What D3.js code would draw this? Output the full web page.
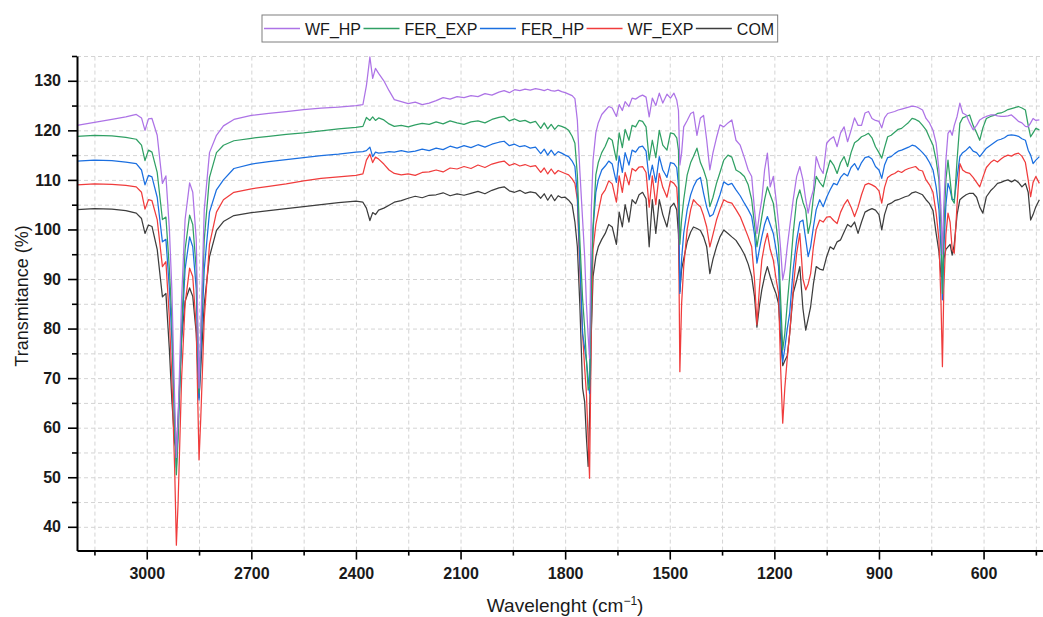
<!DOCTYPE html>
<html>
<head>
<meta charset="utf-8">
<script src="https://cdn.jsdelivr.net/npm/d3@7"></script>
<style>
  body { margin: 0; background: #fff; }
  svg { display: block; font-family: "Liberation Sans", Arial, sans-serif; }
  .axis text { font-family: "Liberation Sans", Arial, sans-serif; font-size: 16px; font-weight: bold; fill: #1a1a1a; }
</style>
</head>
<body>
<svg id="chart" width="1043" height="617"></svg>
<script>
// wavenumber grid (cm-1), shared by all five spectra
const wavenumber = [
  3200, 3150, 3100, 3060, 3030, 3015, 3005, 2995, 2985, 2970,
  2955, 2945, 2935, 2928, 2920, 2915, 2910, 2900, 2890, 2877,
  2868, 2858, 2850, 2845, 2835, 2820, 2800, 2780, 2750, 2700,
  2650, 2600, 2550, 2500, 2450, 2400, 2380, 2370, 2360, 2352,
  2344, 2335, 2320, 2305, 2290, 2270, 2250, 2230, 2210, 2190,
  2170, 2150, 2130, 2110, 2090, 2070, 2050, 2030, 2010, 1990,
  1975, 1960, 1945, 1930, 1915, 1900, 1885, 1870, 1860, 1850,
  1840, 1830, 1820, 1810, 1800, 1790, 1780, 1772, 1765, 1758,
  1750, 1744, 1739, 1734, 1730, 1725, 1720, 1712, 1705, 1695,
  1685, 1675, 1665, 1653, 1645, 1636, 1628, 1617, 1608, 1598,
  1588, 1578, 1568, 1559, 1550, 1540, 1530, 1520, 1508, 1498,
  1488, 1480, 1475, 1471, 1466, 1460, 1450, 1440, 1432, 1422,
  1412, 1403, 1394, 1385, 1376, 1366, 1356, 1345, 1333, 1322,
  1310, 1298, 1286, 1275, 1265, 1257, 1250, 1243, 1236, 1228,
  1220, 1212, 1203, 1195, 1188, 1182, 1176, 1170, 1163, 1156,
  1146, 1136, 1127, 1118, 1110, 1103, 1096, 1088, 1080, 1070,
  1060, 1050, 1040, 1030, 1020, 1010, 1000, 990, 980, 970,
  960, 950, 940, 930, 920, 910, 900, 892, 884, 875,
  865, 855, 845, 835, 825, 815, 805, 795, 785, 775,
  765, 755, 745, 736, 728, 722, 718, 714, 708, 702,
  696, 690, 684, 676, 668, 660, 650, 640, 630, 620,
  611, 602, 592, 580, 570, 560, 550, 540, 530, 520,
  510, 500, 490, 480, 472, 465, 458, 450, 440
];

const wfHp = [
  121.0, 121.6, 122.2, 122.7, 123.2, 122.5, 120.0, 122.3, 122.4, 119.0,
  109.3, 110.8, 100.0, 88.0, 66.0, 54.0, 62.0, 86.0, 102.0, 109.4,
  107.5, 98.0, 68.0, 80.0, 104.0, 115.5, 119.0, 120.9, 122.2, 123.0,
  123.4, 123.8, 124.2, 124.5, 124.7, 125.0, 125.2, 129.0, 134.8, 130.5,
  132.5, 131.5, 130.0, 128.0, 126.2, 125.8, 125.4, 125.7, 125.2, 125.5,
  126.0, 126.6, 126.3, 126.8, 126.6, 127.0, 126.8, 127.4, 127.1, 127.7,
  128.0, 127.6, 128.2, 128.0, 128.3, 128.1, 128.4, 128.2, 128.0, 128.3,
  128.0, 127.9, 128.1, 127.8, 127.6, 127.3, 127.0, 126.4, 122.0, 112.0,
  102.0, 94.5, 85.0, 78.4, 74.0, 104.0, 114.0, 119.5, 121.5, 123.2,
  124.0, 124.8, 124.5, 122.8, 125.2, 124.0, 125.8, 124.8, 126.5, 126.3,
  126.8, 127.1, 126.7, 122.7, 126.5, 125.0, 127.5, 125.5, 127.3, 126.5,
  127.5, 126.1, 124.0, 113.0, 115.4, 120.7, 122.0, 123.4, 123.7, 119.0,
  122.5, 123.0, 118.0, 112.0, 115.5, 118.5, 121.1, 120.7, 121.5, 122.1,
  118.0, 117.0, 114.5, 112.0, 110.7, 104.0, 99.2, 103.0, 106.0, 112.0,
  115.4, 108.6, 110.7, 106.0, 101.2, 96.0, 89.8, 92.0, 96.5, 100.5,
  106.0, 110.7, 112.7, 110.0, 106.0, 103.3, 106.0, 108.0, 114.7, 112.5,
  111.3, 117.4, 118.2, 118.7, 116.7, 119.5, 120.7, 117.7, 120.0, 122.5,
  121.0, 121.0, 123.5, 123.8, 122.4, 122.0, 121.8, 120.5, 122.5, 123.4,
  123.6, 123.8, 124.1, 124.3, 124.5, 124.7, 124.9, 124.8, 124.5, 124.1,
  122.4, 121.5, 120.0, 117.4, 112.0, 104.0, 95.0, 105.0, 114.0, 119.4,
  120.0, 119.0, 121.0, 122.8, 125.5, 123.5, 123.1, 121.5, 120.1, 121.0,
  122.1, 122.5, 122.8, 123.1, 123.1, 122.9, 122.8, 122.8, 122.9, 123.1,
  122.5, 121.8, 121.5, 120.8, 120.7, 121.5, 122.4, 122.0, 122.1
];

const ferExp = [
  118.8, 119.0, 118.9, 118.6, 118.2, 117.0, 113.9, 116.0, 115.6, 111.5,
  102.0, 102.5, 92.0, 82.0, 60.0, 50.5, 58.0, 80.0, 96.0, 102.9,
  101.0, 92.0, 67.0, 78.0, 98.0, 110.5, 115.5, 117.0, 117.9, 118.4,
  118.8, 119.2, 119.5, 119.9, 120.3, 120.6, 120.8, 122.6, 122.0, 122.7,
  122.0, 122.5, 122.1, 121.3, 120.8, 121.0, 120.7, 121.1, 121.4, 121.2,
  121.7, 121.3, 121.9, 121.5, 121.2, 121.7, 121.9, 121.5, 122.2, 122.6,
  122.8, 121.9, 122.3, 121.8, 122.0, 121.5, 121.8, 120.4, 121.5, 120.3,
  121.2, 120.2, 121.0, 120.8, 120.5, 120.0, 118.8, 117.4, 111.0, 98.0,
  86.0, 80.0, 73.6, 67.6, 68.3, 88.0, 100.5, 111.0, 113.5, 115.5,
  116.8, 118.5, 118.0, 114.0, 119.5, 116.5, 120.2, 118.0, 121.0, 120.7,
  122.0, 121.8, 120.7, 114.0, 118.0, 114.5, 120.0, 117.0, 116.0, 119.5,
  119.3, 118.5, 116.0, 97.0, 102.0, 106.0, 111.0, 113.5, 114.7, 116.4,
  113.5, 112.0, 110.0, 104.6, 106.5, 109.3, 111.5, 114.0, 115.0, 114.6,
  112.0, 111.5, 110.7, 109.0, 106.0, 101.0, 96.5, 99.5, 102.6, 106.0,
  108.6, 107.0, 105.3, 101.0, 96.5, 86.0, 75.7, 79.0, 85.0, 90.5,
  99.2, 106.0, 108.0, 105.5, 103.9, 99.2, 101.5, 106.6, 110.7, 109.5,
  108.6, 111.5, 114.0, 113.0, 111.3, 113.5, 114.7, 112.7, 115.5, 117.5,
  118.0, 118.7, 119.0, 119.4, 118.5, 116.7, 115.5, 114.4, 116.5, 118.7,
  119.0, 119.6, 120.2, 120.4, 121.0, 121.6, 122.4, 122.2, 121.8, 121.0,
  120.1, 118.5, 117.0, 114.0, 110.0, 100.0, 87.1, 100.0, 110.0, 114.0,
  110.0, 106.0, 105.3, 114.0, 121.4, 122.5, 122.8, 123.1, 121.0, 119.5,
  118.0, 120.5, 122.4, 122.8, 123.0, 123.4, 123.5, 123.8, 124.2, 124.4,
  124.6, 124.8, 124.5, 124.1, 121.0, 118.7, 119.5, 120.4, 120.1
];

const ferHp = [
  113.8, 114.0, 113.9, 113.6, 113.3, 112.0, 109.0, 110.9, 110.6, 106.5,
  97.5, 98.0, 88.0, 78.0, 62.0, 52.0, 60.0, 78.0, 92.0, 98.5,
  96.5, 88.0, 65.6, 75.0, 92.0, 103.5, 108.0, 110.0, 112.3, 113.2,
  113.7, 114.1, 114.5, 114.9, 115.2, 115.6, 115.7, 115.9, 116.6, 114.7,
  115.6, 115.4, 115.5, 115.7, 115.6, 115.9, 115.6, 115.8, 116.2, 115.9,
  116.4, 116.1, 116.8, 116.4, 116.9, 116.5, 117.1, 116.6, 117.2, 117.6,
  117.8, 116.9, 117.2, 116.7, 116.9, 116.4, 116.6, 115.3, 116.2, 115.0,
  116.0, 115.0, 115.7, 115.4, 115.0, 114.7, 113.8, 112.7, 107.0, 94.0,
  79.0, 76.0, 73.6, 70.0, 66.9, 90.0, 100.0, 107.5, 110.0, 112.0,
  112.8, 113.8, 113.2, 109.5, 114.8, 111.5, 115.5, 113.0, 116.0, 115.6,
  116.6, 116.8, 115.8, 110.0, 113.0, 109.5, 114.7, 112.0, 110.5, 113.5,
  113.3, 112.5, 109.0, 87.1, 94.0, 99.2, 104.0, 107.0, 108.6, 110.0,
  110.5, 107.3, 104.5, 102.6, 103.0, 105.0, 107.0, 109.6, 109.0, 109.3,
  108.0, 106.8, 105.3, 104.0, 102.6, 99.0, 93.2, 96.0, 98.5, 101.0,
  102.6, 101.0, 99.2, 96.0, 92.5, 82.0, 73.3, 76.0, 80.0, 83.1,
  92.0, 97.9, 101.5, 101.9, 98.0, 94.5, 96.5, 100.5, 104.0, 106.0,
  104.6, 106.5, 108.0, 109.3, 109.0, 110.5, 111.3, 110.8, 112.5, 113.3,
  112.0, 113.5, 114.5, 114.7, 114.2, 112.7, 112.0, 110.3, 113.0, 114.5,
  114.7, 115.3, 115.8, 116.0, 116.3, 116.6, 117.0, 116.8, 116.2, 115.5,
  114.7, 113.5, 112.0, 108.6, 104.0, 96.0, 85.8, 96.0, 105.0, 109.3,
  108.0, 106.0, 106.0, 110.5, 114.7, 115.5, 116.0, 116.7, 115.8, 115.5,
  114.7, 115.5, 116.4, 117.0, 117.5, 118.0, 118.2, 118.5, 119.0, 119.1,
  119.0, 118.8, 118.3, 118.0, 116.0, 115.0, 113.3, 114.0, 114.7
];

const wfExp = [
  109.0, 109.2, 109.1, 108.9, 108.6, 107.5, 104.1, 106.0, 105.8, 102.0,
  92.5, 93.5, 82.0, 70.0, 52.0, 36.3, 45.0, 70.0, 85.0, 92.2,
  90.5, 80.0, 53.5, 62.0, 82.0, 97.0, 103.5, 106.0, 107.5, 108.2,
  108.7, 109.2, 109.8, 110.3, 110.6, 110.9, 111.2, 114.0, 115.2, 113.5,
  114.6, 114.2, 113.2, 112.0, 111.3, 111.0, 111.2, 110.9, 111.5, 111.6,
  112.0, 111.6, 112.4, 112.2, 112.7, 112.3, 113.0, 112.5, 113.2, 113.6,
  113.8, 112.9, 113.3, 112.8, 113.1, 112.7, 112.9, 111.5, 112.4, 111.2,
  112.2, 111.2, 111.9, 111.6, 111.3, 111.0, 110.2, 109.3, 106.0, 92.0,
  79.0, 72.0, 66.9, 57.5, 49.8, 80.0, 96.0, 101.0, 103.5, 107.0,
  108.0, 109.8, 109.2, 105.5, 110.8, 107.5, 111.5, 109.0, 112.3, 111.8,
  112.6, 112.7, 111.5, 104.5, 110.8, 105.0, 111.3, 108.5, 106.5, 109.8,
  109.3, 108.5, 103.0, 71.3, 85.0, 92.5, 100.0, 104.0, 106.0, 105.2,
  104.6, 102.8, 100.5, 96.5, 99.0, 101.9, 104.0, 106.0, 105.5, 105.3,
  104.0, 102.6, 100.5, 98.5, 96.5, 90.0, 80.8, 88.0, 93.8, 97.0,
  99.2, 96.0, 93.8, 90.0, 87.1, 72.0, 60.9, 68.0, 74.0, 79.0,
  88.0, 95.2, 99.2, 90.0, 87.8, 89.0, 91.1, 96.5, 100.0, 101.9,
  101.5, 102.5, 102.6, 101.8, 101.2, 103.5, 105.0, 106.0, 104.5, 102.6,
  104.5, 107.0, 109.0, 109.3, 109.0, 108.6, 107.8, 105.3, 108.5, 110.5,
  111.0, 111.3, 111.8, 111.5, 112.0, 112.3, 112.5, 112.7, 112.0, 111.8,
  110.0, 109.0, 107.5, 103.3, 98.0, 85.0, 72.3, 88.0, 99.0, 103.3,
  101.5, 96.0, 95.2, 105.0, 113.3, 112.0, 111.5, 111.3, 110.5, 109.5,
  108.6, 110.5, 112.5, 113.5, 114.0, 113.6, 114.2, 114.7, 115.0, 114.8,
  115.2, 115.4, 114.8, 113.5, 110.0, 106.6, 109.5, 110.7, 109.3
];

const com = [
  104.0, 104.2, 104.1, 103.8, 103.3, 102.2, 99.2, 100.9, 100.6, 96.0,
  86.4, 87.1, 75.7, 65.6, 57.0, 55.5, 62.0, 78.0, 85.5, 88.2,
  86.5, 79.0, 66.0, 72.0, 85.0, 94.5, 99.8, 101.6, 102.8, 103.4,
  103.8, 104.2, 104.6, 105.0, 105.4, 105.7, 105.5, 104.3, 101.8, 103.4,
  103.0, 103.9, 104.3, 104.9, 105.5, 105.8, 106.3, 106.7, 106.4, 106.9,
  107.0, 107.4, 106.8, 107.2, 106.9, 107.3, 107.7, 107.2, 107.9, 108.4,
  108.6, 107.8, 107.5, 107.9, 107.3, 107.6, 107.4, 106.3, 107.2, 105.9,
  107.0, 105.8, 106.8, 106.4, 106.5, 105.9, 105.0, 101.5, 96.5, 85.0,
  68.0, 65.2, 58.0, 52.2, 62.0, 79.0, 90.5, 94.5, 96.5, 98.0,
  99.2, 101.0, 100.5, 97.0, 103.5, 100.5, 105.0, 101.5, 106.0, 105.2,
  107.0, 107.5, 106.2, 96.5, 106.0, 99.2, 106.0, 103.0, 100.5, 104.5,
  105.3, 104.0, 99.0, 87.5, 92.0, 94.0, 97.5, 99.5, 100.5, 100.2,
  99.8, 98.5, 96.5, 91.1, 94.0, 96.5, 98.5, 99.9, 99.2, 98.5,
  97.8, 96.5, 95.0, 93.0, 90.5, 86.5, 80.3, 84.5, 87.8, 90.5,
  92.5, 90.5, 88.5, 87.0, 85.0, 78.0, 72.5, 73.5, 74.5, 79.0,
  87.1, 89.8, 92.5, 84.0, 79.7, 82.0, 84.4, 89.0, 92.5, 92.0,
  91.8, 94.5, 96.5, 96.0, 97.5, 97.9, 99.5, 101.0, 100.5, 101.5,
  99.2, 101.5, 103.5, 103.9, 104.2, 103.9, 103.0, 99.9, 103.0, 105.0,
  105.3, 105.8, 106.0, 106.3, 106.6, 106.8, 107.4, 107.6, 107.3, 107.0,
  106.0, 105.2, 103.8, 99.2, 95.5, 90.5, 90.5, 94.0, 96.0, 96.5,
  97.0, 94.8, 97.0, 103.0, 106.0, 106.5, 107.0, 107.3, 107.3, 106.5,
  104.5, 103.3, 106.6, 107.8, 108.5, 109.3, 109.5, 109.8, 110.0, 109.6,
  110.0, 109.5, 108.6, 109.3, 107.5, 101.9, 103.0, 104.6, 106.0
];

const seriesNames = ["WF_HP", "FER_EXP", "FER_HP", "WF_EXP", "COM"];
const seriesColors = ["#ad73e6", "#30a064", "#1b6fe0", "#f03c3c", "#3d3d3d"];
const seriesValues = [wfHp, ferExp, ferHp, wfExp, com];

const xMajorTicks = [3000, 2700, 2400, 2100, 1800, 1500, 1200, 900, 600];
const xMinorTicks = [3150, 2850, 2550, 2250, 1950, 1650, 1350, 1050, 750, 450];
const yMajorTicks = [40, 50, 60, 70, 80, 90, 100, 110, 120, 130];
const yMinorTicks = [45, 55, 65, 75, 85, 95, 105, 115, 125, 135];

const svg = d3.select("#chart");
const plotLeft = 77, plotRight = 1053.3, plotTop = 56, plotBottom = 550.6;

const x = d3.scaleLinear().domain([3200, 400]).range([plotLeft, plotRight]);
const y = d3.scaleLinear().domain([35.2, 135]).range([plotBottom, plotTop]);

// dashed grid on major and minor ticks
const gridX = xMajorTicks.concat(xMinorTicks);
const gridY = yMajorTicks.concat(yMinorTicks);

svg.append("g")
  .attr("class", "grid")
  .attr("transform", "translate(0," + plotBottom + ")")
  .call(d3.axisBottom(x).tickValues(gridX).tickSize(-(plotBottom - plotTop)).tickFormat(""))
  .call(g => g.select(".domain").remove());

svg.append("g")
  .attr("class", "grid")
  .attr("transform", "translate(" + plotLeft + ",0)")
  .call(d3.axisLeft(y).tickValues(gridY).tickSize(-(1043 - plotLeft)).tickFormat(""))
  .call(g => g.select(".domain").remove());

svg.selectAll(".grid line")
  .attr("stroke", "#d4d4d4")
  .attr("stroke-dasharray", "4,3");

// spectra, drawn back to front
const line = d3.line()
  .x(d => x(d[0]))
  .y(d => y(d[1]));

for (let i = seriesNames.length - 1; i >= 0; i--) {
  const pts = wavenumber.map((w, j) => [w, seriesValues[i][j]]).filter(d => d[1] != null);
  svg.append("path")
    .datum(pts)
    .attr("fill", "none")
    .attr("stroke", seriesColors[i])
    .attr("stroke-width", 1.25)
    .attr("stroke-linejoin", "round")
    .attr("d", line);
}

// axes
const xAxis = svg.append("g")
  .attr("class", "axis")
  .attr("transform", "translate(0," + plotBottom + ")")
  .call(d3.axisBottom(x).tickValues(xMajorTicks).tickFormat(d3.format("d"))
    .tickSize(9).tickSizeOuter(0).tickPadding(8));
xAxis.append("g")
  .call(d3.axisBottom(x).tickValues(xMinorTicks).tickSize(5).tickFormat(""))
  .select(".domain").remove();

const yAxis = svg.append("g")
  .attr("class", "axis")
  .attr("transform", "translate(" + plotLeft + ",0)")
  .call(d3.axisLeft(y).tickValues(yMajorTicks).tickFormat(d3.format("d"))
    .tickSize(9).tickSizeOuter(0).tickPadding(7));
yAxis.append("g")
  .call(d3.axisLeft(y).tickValues(yMinorTicks).tickSize(5).tickFormat(""))
  .select(".domain").remove();

svg.selectAll(".axis .domain").attr("stroke", "#000").attr("stroke-width", 2);
svg.selectAll(".axis .tick line").attr("stroke", "#000").attr("stroke-width", 1.6);

// axis titles
const xTitle = svg.append("text")
  .attr("x", (plotLeft + plotRight) / 2)
  .attr("y", 612)
  .attr("text-anchor", "middle")
  .attr("font-size", 19)
  .attr("fill", "#1a1a1a");
xTitle.append("tspan").text("Wavelenght (cm");
xTitle.append("tspan").attr("dy", -7).attr("font-size", 12).text("\u22121");
xTitle.append("tspan").attr("dy", 7).text(")");

svg.append("text")
  .attr("transform", "translate(28,296) rotate(-90)")
  .attr("text-anchor", "middle")
  .attr("font-size", 18)
  .attr("fill", "#1a1a1a")
  .text("Transmitance (%)");

// legend
const legend = svg.append("g");
const box = legend.append("rect")
  .attr("x", 262).attr("y", 15).attr("height", 27)
  .attr("fill", "#fff").attr("stroke", "#7f7f7f").attr("stroke-width", 1);

let lx = 264;
seriesNames.forEach((name, i) => {
  legend.append("line")
    .attr("x1", lx).attr("x2", lx + 36)
    .attr("y1", 28.5).attr("y2", 28.5)
    .attr("stroke", seriesColors[i]).attr("stroke-width", 1.3);
  const t = legend.append("text")
    .attr("x", lx + 41).attr("y", 34.5)
    .attr("font-size", 16)
    .attr("fill", "#1a1a1a")
    .text(name);
  lx += 41 + t.node().getComputedTextLength() + 2.5;
});
box.attr("width", lx - 262 + 1);
</script>
</body>
</html>
